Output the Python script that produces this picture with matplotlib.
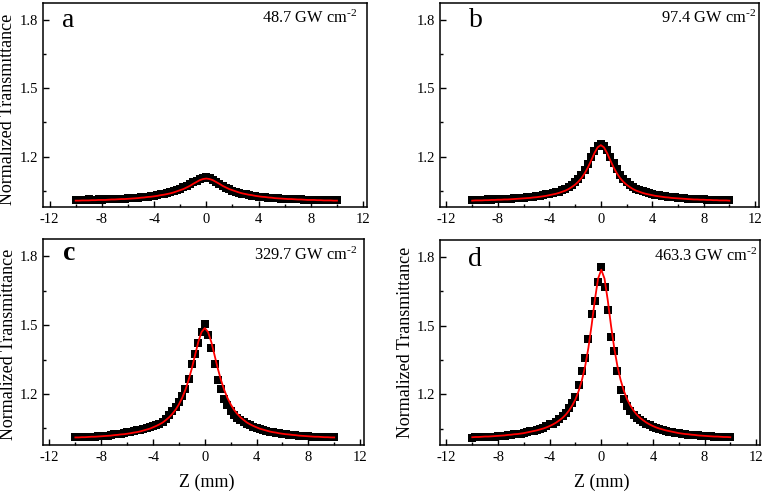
import numpy as np
import matplotlib
matplotlib.use("Agg")
import matplotlib.pyplot as plt
from matplotlib.ticker import MultipleLocator

plt.rcParams["font.family"] = ["Liberation Serif", "DejaVu Serif"]
plt.rcParams["mathtext.fontset"] = "custom"
plt.rcParams["mathtext.rm"] = "Liberation Serif"
plt.rcParams["mathtext.it"] = "Liberation Serif:italic"
plt.rcParams["axes.unicode_minus"] = False

# ── data: sample position (mm) and normalized transmittance ──────────
z_mm = [-10.0, -9.75, -9.5, -9.25, -9.0, -8.75, -8.5, -8.25, -8.0, -7.75,
        -7.5, -7.25, -7.0, -6.75, -6.5, -6.25, -6.0, -5.75, -5.5, -5.25,
        -5.0, -4.75, -4.5, -4.25, -4.0, -3.75, -3.5, -3.25, -3.0, -2.75,
        -2.5, -2.25, -2.0, -1.75, -1.5, -1.25, -1.0, -0.75, -0.5, -0.25,
        0.0, 0.25, 0.5, 0.75, 1.0, 1.25, 1.5, 1.75, 2.0, 2.25,
        2.5, 2.75, 3.0, 3.25, 3.5, 3.75, 4.0, 4.25, 4.5, 4.75,
        5.0, 5.25, 5.5, 5.75, 6.0, 6.25, 6.5, 6.75, 7.0, 7.25,
        7.5, 7.75, 8.0, 8.25, 8.5, 8.75, 9.0, 9.25, 9.5, 9.75, 10.0]

data_a = [1.009, 1.008, 1.010, 1.009, 1.011, 1.010, 1.009, 1.011, 1.010, 1.011,
          1.012, 1.012, 1.013, 1.014, 1.014, 1.015, 1.016, 1.017, 1.018, 1.019,
          1.021, 1.023, 1.024, 1.026, 1.028, 1.030, 1.033, 1.036, 1.039, 1.043,
          1.047, 1.052, 1.058, 1.064, 1.071, 1.078, 1.087, 1.094, 1.101, 1.106,
          1.108, 1.104, 1.097, 1.088, 1.079, 1.070, 1.062, 1.055, 1.049, 1.044,
          1.040, 1.036, 1.033, 1.030, 1.028, 1.026, 1.024, 1.022, 1.021, 1.019,
          1.018, 1.017, 1.016, 1.015, 1.014, 1.013, 1.012, 1.012, 1.011, 1.011,
          1.010, 1.010, 1.009, 1.009, 1.009, 1.008, 1.008, 1.008, 1.007, 1.007, 1.007]
fit_a = [1.006, 1.006, 1.007, 1.007, 1.007, 1.008, 1.008, 1.009, 1.009, 1.009,
         1.010, 1.011, 1.011, 1.012, 1.013, 1.013, 1.014, 1.015, 1.016, 1.017,
         1.019, 1.020, 1.022, 1.023, 1.025, 1.027, 1.030, 1.032, 1.035, 1.038,
         1.042, 1.047, 1.052, 1.057, 1.064, 1.071, 1.080, 1.088, 1.096, 1.101,
         1.103, 1.101, 1.096, 1.088, 1.080, 1.071, 1.064, 1.057, 1.052, 1.047,
         1.042, 1.038, 1.035, 1.032, 1.030, 1.027, 1.025, 1.023, 1.022, 1.020,
         1.019, 1.017, 1.016, 1.015, 1.014, 1.013, 1.013, 1.012, 1.011, 1.011,
         1.010, 1.009, 1.009, 1.009, 1.008, 1.008, 1.007, 1.007, 1.007, 1.006, 1.006]

data_b = [1.008, 1.009, 1.008, 1.010, 1.009, 1.011, 1.010, 1.011, 1.012, 1.012,
          1.013, 1.014, 1.015, 1.016, 1.017, 1.018, 1.019, 1.021, 1.022, 1.024,
          1.026, 1.028, 1.030, 1.033, 1.036, 1.039, 1.042, 1.046, 1.051, 1.057,
          1.065, 1.075, 1.087, 1.102, 1.120, 1.142, 1.168, 1.198, 1.226, 1.246,
          1.255, 1.247, 1.228, 1.200, 1.170, 1.143, 1.120, 1.101, 1.087, 1.076,
          1.066, 1.058, 1.052, 1.047, 1.042, 1.038, 1.035, 1.032, 1.029, 1.027,
          1.025, 1.023, 1.021, 1.020, 1.018, 1.017, 1.016, 1.015, 1.014, 1.013,
          1.012, 1.011, 1.011, 1.010, 1.010, 1.009, 1.009, 1.008, 1.008, 1.008, 1.007]
fit_b = [1.006, 1.007, 1.007, 1.007, 1.008, 1.008, 1.009, 1.009, 1.010, 1.010,
         1.011, 1.011, 1.012, 1.013, 1.014, 1.015, 1.016, 1.017, 1.018, 1.020,
         1.021, 1.023, 1.025, 1.027, 1.030, 1.033, 1.036, 1.040, 1.045, 1.050,
         1.057, 1.066, 1.076, 1.089, 1.105, 1.126, 1.152, 1.182, 1.214, 1.240,
         1.250, 1.240, 1.214, 1.182, 1.152, 1.126, 1.105, 1.089, 1.076, 1.066,
         1.057, 1.050, 1.045, 1.040, 1.036, 1.033, 1.030, 1.027, 1.025, 1.023,
         1.021, 1.020, 1.018, 1.017, 1.016, 1.015, 1.014, 1.013, 1.012, 1.011,
         1.011, 1.010, 1.010, 1.009, 1.009, 1.008, 1.008, 1.007, 1.007, 1.007, 1.006]

data_c = [1.012, 1.013, 1.012, 1.014, 1.013, 1.015, 1.014, 1.016, 1.017, 1.018,
          1.019, 1.021, 1.024, 1.028, 1.027, 1.030, 1.033, 1.036, 1.040, 1.042,
          1.044, 1.046, 1.050, 1.055, 1.060, 1.065, 1.071, 1.080, 1.093, 1.108,
          1.125, 1.145, 1.165, 1.190, 1.220, 1.265, 1.330, 1.375, 1.420, 1.470,
          1.506, 1.455, 1.400, 1.330, 1.260, 1.220, 1.180, 1.150, 1.128, 1.110,
          1.097, 1.086, 1.077, 1.069, 1.063, 1.058, 1.052, 1.048, 1.044, 1.040,
          1.036, 1.033, 1.031, 1.029, 1.027, 1.025, 1.023, 1.021, 1.020, 1.019,
          1.018, 1.017, 1.016, 1.015, 1.014, 1.014, 1.013, 1.012, 1.012, 1.011, 1.011]
fit_c = [1.011, 1.011, 1.012, 1.012, 1.013, 1.014, 1.014, 1.015, 1.016, 1.017,
         1.018, 1.019, 1.021, 1.022, 1.024, 1.025, 1.027, 1.029, 1.032, 1.034,
         1.037, 1.041, 1.045, 1.049, 1.055, 1.061, 1.068, 1.076, 1.087, 1.099,
         1.114, 1.132, 1.155, 1.183, 1.218, 1.261, 1.312, 1.370, 1.427, 1.470,
         1.487, 1.470, 1.427, 1.370, 1.312, 1.261, 1.218, 1.183, 1.155, 1.132,
         1.114, 1.099, 1.087, 1.076, 1.068, 1.061, 1.055, 1.049, 1.045, 1.041,
         1.037, 1.034, 1.032, 1.029, 1.027, 1.025, 1.024, 1.022, 1.021, 1.019,
         1.018, 1.017, 1.016, 1.015, 1.014, 1.014, 1.013, 1.012, 1.012, 1.011, 1.011]

data_d = [1.010, 1.011, 1.012, 1.011, 1.013, 1.014, 1.013, 1.015, 1.016, 1.017,
          1.018, 1.020, 1.022, 1.026, 1.025, 1.028, 1.031, 1.034, 1.038, 1.041,
          1.045, 1.049, 1.053, 1.060, 1.068, 1.072, 1.080, 1.092, 1.105, 1.120,
          1.138, 1.160, 1.190, 1.240, 1.300, 1.360, 1.440, 1.550, 1.610, 1.690,
          1.755, 1.670, 1.570, 1.450, 1.390, 1.300, 1.220, 1.180, 1.150, 1.125,
          1.108, 1.096, 1.086, 1.077, 1.070, 1.064, 1.058, 1.053, 1.048, 1.044,
          1.040, 1.037, 1.034, 1.031, 1.029, 1.027, 1.025, 1.023, 1.022, 1.021,
          1.020, 1.019, 1.018, 1.017, 1.016, 1.015, 1.014, 1.014, 1.013, 1.013, 1.012]
fit_d = [1.012, 1.013, 1.013, 1.014, 1.015, 1.015, 1.016, 1.017, 1.018, 1.019,
         1.020, 1.022, 1.023, 1.025, 1.026, 1.028, 1.030, 1.033, 1.036, 1.039,
         1.042, 1.046, 1.050, 1.055, 1.061, 1.068, 1.076, 1.086, 1.097, 1.111,
         1.129, 1.151, 1.178, 1.215, 1.262, 1.323, 1.403, 1.502, 1.612, 1.706,
         1.745, 1.706, 1.612, 1.502, 1.403, 1.323, 1.262, 1.215, 1.178, 1.151,
         1.129, 1.111, 1.097, 1.086, 1.076, 1.068, 1.061, 1.055, 1.050, 1.046,
         1.042, 1.039, 1.036, 1.033, 1.030, 1.028, 1.026, 1.025, 1.023, 1.022,
         1.020, 1.019, 1.018, 1.017, 1.016, 1.015, 1.015, 1.014, 1.013, 1.013, 1.012]

letters = ["a", "b", "c", "d"]
intensities = ["48.7", "97.4", "329.7", "463.3"]
x_ticks = [-12, -8, -4, 0, 4, 8, 12]
y_ticks = [1.2, 1.5, 1.8]

W, H = 767, 494
fig = plt.figure(figsize=(W / 100, H / 100), dpi=100)


def add_panel(l, t, r, b):
    """Axes from pixel box (left, top, right, bottom)."""
    return fig.add_axes([l / W, 1 - b / H, (r - l) / W, (b - t) / H])


boxes = [(43, 3, 367, 207), (440, 3, 759, 207),
         (43, 239, 364, 445), (440, 240, 760, 445)]
series = [(data_a, fit_a), (data_b, fit_b), (data_c, fit_c), (data_d, fit_d)]
letter_pos = [(0.058, 0.882), (0.092, 0.882), (0.063, 0.897), (0.089, 0.873)]
label_pos = [(0.968, 0.903), (0.99, 0.903), (0.98, 0.897), (0.993, 0.90)]

for i, ax_box in enumerate(boxes):
    ax = add_panel(*ax_box)
    data, fit = series[i]
    ax.plot(z_mm, data, "s", color="black", ms=5.8, mew=0, zorder=2)
    ax.plot(z_mm, fit, "-", color="red", lw=1.3, zorder=3)

    ax.set_xlim(-12.5, 12.3)
    ax.set_ylim(0.978, 1.875)
    ax.set_xticks(x_ticks)
    ax.set_yticks(y_ticks)
    ax.xaxis.set_minor_locator(MultipleLocator(2))
    ax.yaxis.set_minor_locator(MultipleLocator(0.15))
    ax.tick_params(which="both", direction="in", width=1.0, labelsize=10.5,
                   top=False, right=False)
    ax.tick_params(which="major", length=4.5)
    ax.tick_params(which="minor", length=2.5)
    ax.tick_params(axis="x", pad=4)
    ax.tick_params(axis="y", pad=3.5)
    for sp in ax.spines.values():
        sp.set_linewidth(1.1)

    lx, ly = letter_pos[i]
    ax.text(lx, ly, letters[i], transform=ax.transAxes, fontsize=20,
            fontweight="bold" if letters[i] == "c" else "normal",
            ha="left", va="baseline")
    tx, ty = label_pos[i]
    ax.text(tx, ty, intensities[i] + r" GW cm$^{\text{-2}}$",
            transform=ax.transAxes, fontsize=11.8, ha="right", va="baseline")

# axis titles placed like the composite figure (b has no y label)
fig.text(8 / W, 1 - 109 / H, "Normalized Transmittance", rotation=90,
         ha="center", va="center", fontsize=13)
fig.text(9 / W, 1 - 344 / H, "Normalized Transmittance", rotation=90,
         ha="center", va="center", fontsize=13)
fig.text(406 / W, 1 - 342 / H, "Normalized Transmittance", rotation=90,
         ha="center", va="center", fontsize=13)
fig.text(207 / W, 1 - 482 / H, "Z (mm)", ha="center", va="center", fontsize=13)
fig.text(602 / W, 1 - 482 / H, "Z (mm)", ha="center", va="center", fontsize=13)

fig.savefig("out.png", dpi=100)
